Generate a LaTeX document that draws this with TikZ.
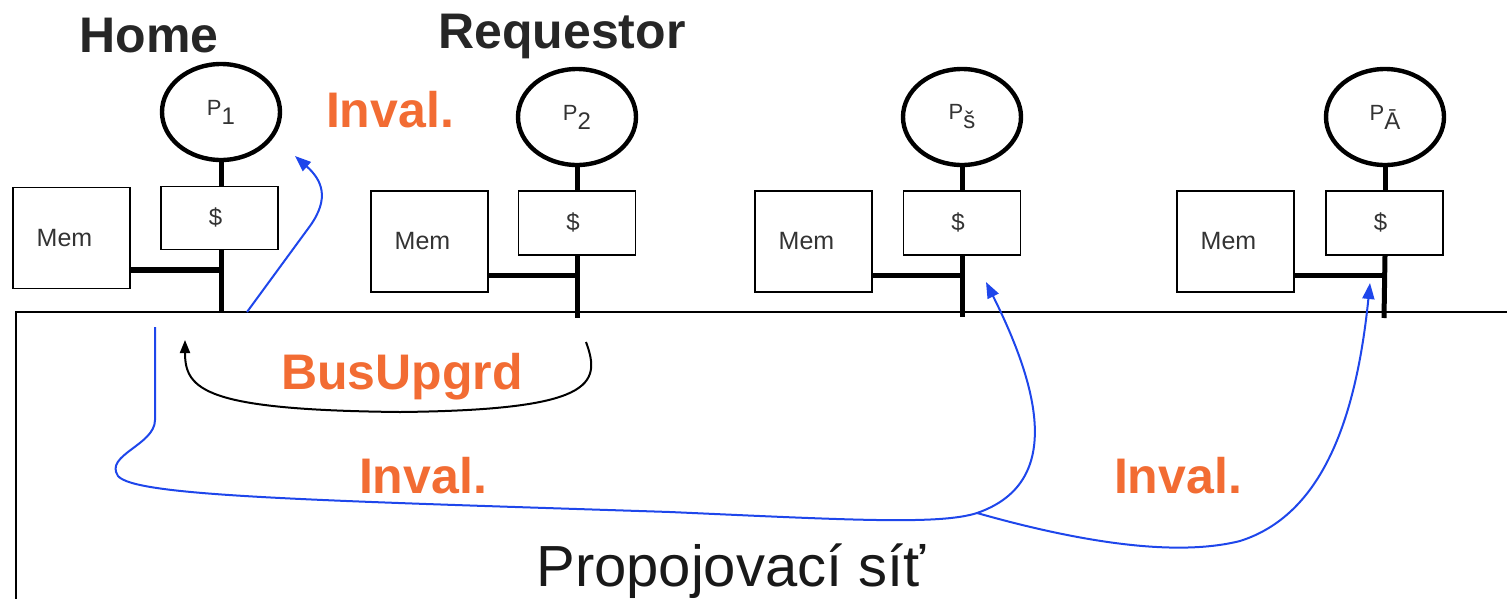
\documentclass[tikz,border=0pt]{standalone}
\usepackage{fontspec}
\setmainfont{Liberation Sans}
\usetikzlibrary{shapes.geometric,arrows.meta}
\definecolor{labelorange}{RGB}{242,108,51}
\definecolor{arrowblue}{RGB}{30,70,235}
\tikzset{
  proc/.style={draw=black,line width=4.4pt,ellipse,minimum width=118pt,minimum height=96pt,inner sep=0pt,font=\fontsize{22}{24}\selectfont,text=black!80},
  cachebox/.style={draw=black,line width=1.3pt,minimum width=117pt,minimum height=63pt,inner sep=0pt,font=\fontsize{24}{26}\selectfont,text=black!80},
  membox/.style={draw=black,line width=1.3pt,minimum width=117pt,minimum height=101pt,inner sep=0pt,font=\fontsize{25}{27}\selectfont,text=black!80},
  busline/.style={line width=5pt},
  memline/.style={line width=6pt},
  role/.style={font=\fontsize{50}{56}\bfseries,text=black!85,anchor=base},
  msg/.style={font=\fontsize{50}{56}\bfseries,text=labelorange,anchor=base},
  blueflow/.style={draw=arrowblue,line width=2pt},
  bluetip/.style={-{Triangle[length=16pt,width=12pt]}},
  blackflow/.style={draw=black,line width=2pt,-{Triangle[length=13pt,width=10pt]}}
}
\newcommand{\plabel}[1]{P\raisebox{-9pt}{\fontsize{24}{26}\selectfont #1}}
\newcommand{\memtext}{Mem\hspace{14pt}\mbox{}}
\newcommand{\cachetext}{\raisebox{3pt}{\$}\hspace{8pt}\mbox{}}
\begin{document}
\begin{tikzpicture}[x=1pt,y=-1pt]
\useasboundingbox (0,0) rectangle (1507,598);
% network
\draw[line width=1.5pt] (1510,312) coordinate (netR) -- (16,312) coordinate (netTL) -- (16,600) coordinate (netB);
\node[font=\fontsize{58}{64}\selectfont,text=black!90,anchor=base] (net) at (731,586) {Propojovací síť};
% node 1
\node[proc] (p1) at (221,112) {\plabel{1}};
\node[cachebox] (c1) at (219.5,218) {\cachetext};
\node[membox] (m1) at (71.5,238) {\memtext};
\coordinate (b1) at (221,312);
\coordinate (j1) at (221,270);
\draw[busline] (p1.south) -- (p1.south |- c1.north);
\draw[busline] (p1.south |- c1.south) -- (b1);
\draw[memline] (m1.east |- j1) -- (j1);
% node 2
\node[proc] (p2) at (577,117) {\plabel{2}};
\node[cachebox,minimum height=64pt] (c2) at (577,223) {\cachetext};
\node[membox] (m2) at (429.5,241.5) {\memtext};
\coordinate (b2) at (577,318);
\coordinate (j2) at (577,275);
\draw[busline] (p2.south) -- (p2.south |- c2.north);
\draw[busline] (p2.south |- c2.south) -- (b2);
\draw[memline,line width=5pt] (m2.east |- j2) -- (j2);
% node 3
\node[proc] (p3) at (962,117) {\plabel{š}};
\node[cachebox,minimum height=64pt] (c3) at (962,223) {\cachetext};
\node[membox] (m3) at (813.5,241.5) {\memtext};
\coordinate (b3) at (962,317);
\coordinate (j3) at (962,275);
\draw[busline] (p3.south) -- (p3.south |- c3.north);
\draw[busline] (p3.south |- c3.south) -- (b3);
\draw[memline,line width=5pt] (m3.east |- j3) -- (j3);
% node 4
\node[proc] (p4) at (1385,117) {\plabel{Ā}};
\node[cachebox,minimum height=64pt] (c4) at (1384.5,223) {\cachetext};
\node[membox] (m4) at (1235.5,241.5) {\memtext};
\coordinate (b4) at (1384,318);
\coordinate (j4) at (1384,275);
\draw[busline] (p4.south) -- (p4.south |- c4.north);
\draw[busline] (p4.south |- c4.south) -- (b4);
\draw[memline,line width=5pt] (m4.east |- j4) -- (j4);
% labels
\node[role] (home) at (149,52) {Home};
\node[role] (req) at (562,48) {Requestor};
\node[msg] (inv1) at (390,127) {Inval.};
\node[msg] (bus) at (402,389) {BusUpgrd};
\node[msg] (inv2) at (423,493) {Inval.};
\node[msg] (inv3) at (1178,493) {Inval.};
% flow coordinates
\coordinate (s1) at (247,312);
\coordinate (t1) at (295,156);
\coordinate (s2) at (155,327);
\coordinate (split) at (977,513);
\coordinate (t3) at (986,282);
\coordinate (t4) at (1370,283);
\coordinate (sb) at (586,342);
\coordinate (tb) at (185,340);
% blue invalidation to P1
\draw[blueflow,bluetip] (s1) -- (310,226) .. controls (330,198) and (322,180) .. (t1);
% blue invalidations from home
\draw[blueflow] (s2) -- (155,420) .. controls (155,445) and (104,455) .. (118,476)
  .. controls (135,496) and (300,500) .. (670,512) .. controls (850,520) and (940,525) .. (split);
\draw[blueflow,bluetip] (split) .. controls (1058,485) and (1045,400) .. (t3);
\draw[blueflow,bluetip] (split) .. controls (1090,545) and (1180,556) .. (1240,541) .. controls (1322,515) and (1356,420) .. (t4);
% bus upgrade
\draw[blackflow] (sb) .. controls (602,385) and (592,410) .. (400,412) .. controls (205,410) and (185,390) .. (tb);
\end{tikzpicture}
\end{document}
